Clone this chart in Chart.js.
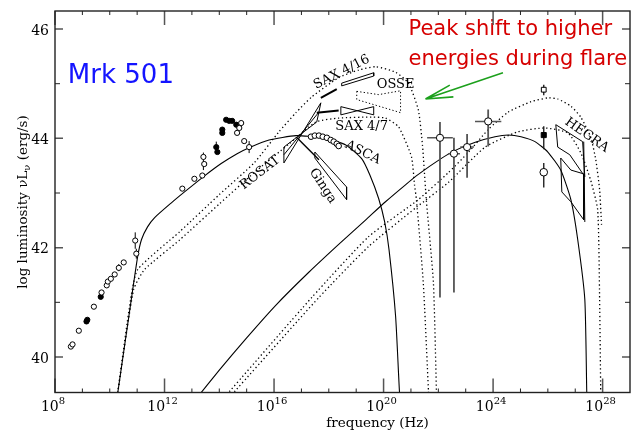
<!DOCTYPE html>
<html>
<head>
<meta charset="utf-8">
<script src="https://cdn.jsdelivr.net/npm/chart.js@4.4.1/dist/chart.umd.min.js"></script>
<style>
  html, body { margin: 0; padding: 0; background: #fff; }
  canvas { display: block; }
</style>
</head>
<body>
<canvas id="myChart" width="639" height="432"></canvas>
<script>
// all values are log10(frequency / Hz) and log10(nu L_nu / erg s^-1)

// model curves: quiescent (solid) and flare (dotted)
const syncQuietX = [10.25, 10.80, 11.02, 11.16, 11.38, 11.64, 12.25, 12.73, 13.45, 14.07, 14.65, 15.09, 15.82, 16.80, 17.75, 18.62, 19.20, 19.50, 19.82, 20.04, 20.20, 20.44, 20.58, 20.62];
const syncQuietY = [39.20, 41.10, 41.84, 42.15, 42.38, 42.55, 42.82, 43.02, 43.31, 43.54, 43.72, 43.83, 43.97, 44.05, 44.01, 43.88, 43.63, 43.33, 42.90, 42.47, 41.96, 40.74, 39.37, 39.22];

const syncFlareAX = [10.25, 10.76, 11.02, 12.55, 14.00, 15.27, 16.18, 16.80, 17.38, 18.36, 19.09, 19.71, 20.44, 20.91, 21.27, 21.42, 21.56, 21.82, 21.93, 21.94];
const syncFlareAY = [39.20, 41.05, 41.60, 42.29, 42.97, 43.55, 44.12, 44.47, 44.76, 45.11, 45.25, 45.31, 45.21, 45.01, 44.52, 43.88, 42.88, 41.36, 39.37, 39.20];

const syncFlareBX = [10.25, 10.87, 11.27, 12.55, 14.00, 15.27, 16.55, 17.53, 18.36, 19.56, 20.07, 20.55, 21.02, 21.13, 21.20, 21.45, 21.64, 21.65];
const syncFlareBY = [39.20, 41.23, 41.60, 42.14, 42.80, 43.37, 43.90, 44.30, 44.37, 44.39, 44.37, 44.21, 43.66, 43.15, 42.88, 41.36, 39.37, 39.20];

const icQuietX = [13.10, 14.00, 15.00, 16.07, 17.27, 18.36, 19.35, 20.07, 20.80, 21.27, 22.07, 22.62, 23.35, 24.07, 24.55, 25.02, 25.53, 26.00, 26.47, 26.84, 27.09, 27.35, 27.42, 27.43];
const icQuietY = [39.20, 39.76, 40.35, 40.95, 41.55, 42.06, 42.51, 42.84, 43.15, 43.34, 43.62, 43.78, 43.93, 44.03, 44.06, 44.03, 43.94, 43.75, 43.42, 42.88, 42.15, 41.05, 39.37, 39.20];

const icFlareAX = [14.08, 17.38, 19.45, 21.27, 22.36, 23.09, 23.82, 24.55, 25.38, 26.00, 26.36, 26.84, 27.20, 27.56, 27.75, 27.89, 27.96];
const icFlareAY = [39.20, 41.09, 42.20, 42.88, 43.37, 43.74, 44.16, 44.48, 44.67, 44.74, 44.72, 44.59, 44.39, 44.03, 43.61, 43.06, 42.42];

const icFlareBX = [14.26, 17.64, 19.45, 21.20, 22.36, 23.71, 24.91, 25.89, 26.73, 27.20, 27.56, 27.82, 27.89, 27.93, 27.93];
const icFlareBY = [39.20, 41.09, 42.02, 42.74, 43.19, 43.84, 44.12, 44.19, 44.10, 43.74, 43.24, 42.69, 41.05, 39.36, 39.20];

// radio / mm / IR / optical / UV points
const syncOpenX = [8.58, 8.64, 8.87, 9.42, 9.70, 9.89, 9.93, 10.04, 10.18, 10.33, 10.51, 10.93, 10.97, 12.65, 13.09, 13.38, 13.42, 13.45, 14.65, 14.73, 14.80, 14.91, 15.09];
const syncOpenY = [40.19, 40.23, 40.48, 40.92, 41.18, 41.31, 41.38, 41.43, 41.51, 41.63, 41.73, 42.13, 41.89, 43.08, 43.26, 43.32, 43.66, 43.53, 44.10, 44.19, 44.28, 43.95, 43.84];
const syncFilledX = [9.15, 9.18, 9.67, 13.89, 13.93, 14.11, 14.11, 14.25, 14.36, 14.47, 14.62];
const syncFilledY = [40.65, 40.68, 41.10, 43.84, 43.75, 44.10, 44.16, 44.34, 44.32, 44.32, 44.25];
const syncErrX = [10.33, 10.93, 10.97, 13.42, 13.89, 15.09];
const syncErrLo = [41.57, 41.98, 41.80, 43.42, 43.74, 43.73];
const syncErrHi = [41.70, 42.28, 41.98, 43.74, 43.94, 43.95];

// ASCA spectrum points
const ascaX = [17.35, 17.49, 17.64, 17.78, 17.93, 18.07, 18.18, 18.29, 18.36];
const ascaY = [44.03, 44.05, 44.05, 44.03, 44.01, 43.97, 43.94, 43.90, 43.86];

// gamma-ray points (EGRET / TeV)
const gamX = [22.06, 22.57, 23.05, 23.82];
const gamY = [44.01, 43.72, 43.84, 44.31];
const gamXerr = [0.47, 0.22, 0.25, 0.48];
const gamYlo = [41.09, 41.18, 43.28, 43.85];
const gamYhi = [44.30, 44.01, 44.08, 44.53];
const tevX = [25.85, 25.85, 25.85];
const tevY = [44.89, 44.06, 43.38];
const tevYlo = [44.79, 43.80, 43.10];
const tevYhi = [44.98, 44.22, 43.55];

// X-ray and TeV spectral bow-ties
const rosatX = [16.36, 17.56, 17.71, 16.36, 16.36];
const rosatY = [43.84, 44.30, 44.65, 43.55, 43.84];
const rosatMidX = [16.36, 17.64];
const rosatMidY = [43.70, 44.48];
const gingaX = [17.49, 18.65, 18.65, 17.49, 17.49];
const gingaY = [43.75, 43.11, 42.88, 43.64, 43.75];
const gingaEdgeX = [16.84, 17.64];
const gingaEdgeY = [44.01, 43.61];
const sax16LineX = [17.71, 18.29];
const sax16LineY = [44.74, 44.90];
const sax16BoxX = [18.47, 19.64, 19.64, 18.47, 18.47];
const sax16BoxY = [45.01, 45.20, 45.14, 44.96, 45.01];
const sax7LineX = [17.56, 18.36];
const sax7LineY = [44.47, 44.51];
const sax7BoxX = [18.44, 19.64, 19.64, 18.44, 18.44];
const sax7BoxY = [44.58, 44.43, 44.58, 44.43, 44.58];
const osseX = [19.02, 19.82, 20.62, 20.62, 19.02, 19.02];
const osseY = [44.86, 44.80, 44.87, 44.47, 44.71, 44.86];
const hegraAX = [26.29, 27.27, 27.35, 26.80, 26.36, 26.29];
const hegraAY = [44.25, 43.94, 43.30, 43.70, 43.84, 44.25];
const hegraBX = [26.47, 26.84, 27.31, 27.31, 26.84, 26.51, 26.47];
const hegraBY = [43.64, 43.42, 43.35, 42.51, 42.84, 43.02, 43.64];
const hegraEdgeX = [27.31, 27.35];
const hegraEdgeY = [43.94, 42.47];

// instrument labels
const labelText = ['SAX 4/16', 'OSSE', 'SAX 4/7', 'ASCA', 'ROSAT', 'Ginga', 'HEGRA'];
const labelX = [18.47, 20.44, 19.20, 19.24, 15.49, 17.78, 27.42];
const labelY = [45.21, 44.98, 44.21, 43.74, 43.37, 43.13, 44.06];
const labelAngle = [-27, 0, 0, 27, -38, 57, 35];

// axis ticks
const xMajor = [8, 12, 16, 20, 24, 28];
const xMinor = [9, 10, 11, 13, 14, 15, 17, 18, 19, 21, 22, 23, 25, 26, 27];
const yMajor = [40, 42, 44, 46];
const yMinor = [41, 43, 45];

// annotation
const sourceName = 'Mrk 501';
const noteLines = ['Peak shift to higher', 'energies during flare'];
const arrowTail = [24.36, 45.20];
const arrowHead = [21.53, 44.72];

const pts = (xs, ys) => xs.map((x, i) => ({x: x, y: ys[i]}));

// vertical / horizontal error bars as broken line segments
function vBars(xs, lo, hi) {
  const out = [];
  xs.forEach((x, i) => { out.push({x: x, y: lo[i]}, {x: x, y: hi[i]}, {x: null, y: null}); });
  return out;
}
function hBars(xs, ys, dx) {
  const out = [];
  xs.forEach((x, i) => { out.push({x: x - dx[i], y: ys[i]}, {x: x + dx[i], y: ys[i]}, {x: null, y: null}); });
  return out;
}

function curve(xs, ys, dotted) {
  return {
    data: pts(xs, ys), showLine: true, pointRadius: 0, borderColor: '#000',
    borderWidth: dotted ? 1.3 : 1.1, borderDash: dotted ? [1.3, 2.7] : [],
    tension: 0.18, fill: false, order: 3
  };
}
function outline(xs, ys, dotted, width) {
  return {
    data: pts(xs, ys), showLine: true, pointRadius: 0, borderColor: '#000',
    borderWidth: width || 1, borderDash: dotted ? [1.3, 2.2] : [],
    tension: 0, fill: false, spanGaps: false, order: 2
  };
}
function marks(xs, ys, opts) {
  return Object.assign({
    data: pts(xs, ys), showLine: false, pointRadius: 2.6, pointStyle: 'circle',
    pointBackgroundColor: '#fff', pointBorderColor: '#000', pointBorderWidth: 1, order: 0
  }, opts || {});
}

const datasets = [
  curve(syncQuietX, syncQuietY, false),
  curve(syncFlareAX, syncFlareAY, true),
  curve(syncFlareBX, syncFlareBY, true),
  curve(icQuietX, icQuietY, false),
  curve(icFlareAX, icFlareAY, true),
  curve(icFlareBX, icFlareBY, true),
  outline(rosatX, rosatY), outline(rosatMidX, rosatMidY),
  outline(gingaX, gingaY), outline(gingaEdgeX, gingaEdgeY, false, 1.4),
  outline(sax16LineX, sax16LineY, false, 2), outline(sax16BoxX, sax16BoxY),
  outline(sax7LineX, sax7LineY, false, 2), outline(sax7BoxX, sax7BoxY),
  outline(osseX, osseY, true),
  outline(hegraAX, hegraAY), outline(hegraBX, hegraBY), outline(hegraEdgeX, hegraEdgeY),
  { data: vBars(syncErrX, syncErrLo, syncErrHi), showLine: true, pointRadius: 0, borderColor: '#000', borderWidth: 1, spanGaps: false, order: 1 },
  { data: vBars(gamX, gamYlo, gamYhi), showLine: true, pointRadius: 0, borderColor: '#555', borderWidth: 1.8, spanGaps: false, order: 1 },
  { data: hBars(gamX, gamY, gamXerr), showLine: true, pointRadius: 0, borderColor: '#555', borderWidth: 1.5, spanGaps: false, order: 1 },
  { data: vBars(tevX, tevYlo, tevYhi), showLine: true, pointRadius: 0, borderColor: '#222', borderWidth: 1.4, spanGaps: false, order: 1 },
  marks(syncOpenX, syncOpenY),
  marks(syncFilledX, syncFilledY, {pointBackgroundColor: '#000'}),
  marks(ascaX, ascaY, {pointRadius: 2.8}),
  marks(gamX, gamY, {pointRadius: 3.6}),
  marks([tevX[0]], [tevY[0]], {pointStyle: 'rect', pointRadius: 3.4}),
  marks([tevX[1]], [tevY[1]], {pointStyle: 'rect', pointRadius: 3.6, pointBackgroundColor: '#000'}),
  marks([tevX[2]], [tevY[2]], {pointRadius: 3.8})
];

const serif = '"DejaVu Serif", serif';

// frame, inward ticks, tick labels, axis titles
const frame = {
  id: 'frame',
  afterDraw(chart) {
    const {ctx, chartArea: a} = chart;
    const sx = chart.scales.x, sy = chart.scales.y;
    ctx.save();
    ctx.lineCap = 'butt';
    xMinor.forEach(v => {
      const p = sx.getPixelForValue(v);
      ctx.strokeStyle = '#222'; ctx.lineWidth = 1;
      ctx.beginPath();
      ctx.moveTo(p, a.bottom); ctx.lineTo(p, a.bottom - 4);
      ctx.moveTo(p, a.top); ctx.lineTo(p, a.top + 4);
      ctx.stroke();
    });
    xMajor.forEach(v => {
      const p = sx.getPixelForValue(v);
      ctx.strokeStyle = '#555'; ctx.lineWidth = 1.5;
      ctx.beginPath();
      ctx.moveTo(p, a.bottom); ctx.lineTo(p, a.bottom - 14);
      ctx.moveTo(p, a.top); ctx.lineTo(p, a.top + 14);
      ctx.stroke();
    });
    yMinor.forEach(v => {
      const p = sy.getPixelForValue(v);
      ctx.strokeStyle = '#222'; ctx.lineWidth = 1;
      ctx.beginPath();
      ctx.moveTo(a.left, p); ctx.lineTo(a.left + 5, p);
      ctx.moveTo(a.right, p); ctx.lineTo(a.right - 5, p);
      ctx.stroke();
    });
    yMajor.forEach(v => {
      const p = sy.getPixelForValue(v);
      ctx.strokeStyle = '#555'; ctx.lineWidth = 1.5;
      ctx.beginPath();
      ctx.moveTo(a.left, p); ctx.lineTo(a.left + 8, p);
      ctx.moveTo(a.right, p); ctx.lineTo(a.right - 8, p);
      ctx.stroke();
    });
    ctx.strokeStyle = '#222'; ctx.lineWidth = 1.4;
    ctx.strokeRect(a.left, a.top, a.right - a.left, a.bottom - a.top);

    // tick labels
    ctx.fillStyle = '#000';
    ctx.textBaseline = 'alphabetic';
    xMajor.forEach(v => {
      const p = sx.getPixelForValue(v);
      const exp = String(v);
      ctx.font = '14px ' + serif;
      const w1 = ctx.measureText('10').width;
      ctx.font = '10px ' + serif;
      const w2 = ctx.measureText(exp).width;
      const x0 = p - 2 - (w1 + w2) / 2;
      ctx.textAlign = 'left';
      ctx.font = '14px ' + serif;
      ctx.fillText('10', x0, a.bottom + 18);
      ctx.font = '10px ' + serif;
      ctx.fillText(exp, x0 + w1, a.bottom + 11);
    });
    ctx.font = '14px ' + serif;
    ctx.textAlign = 'right';
    ctx.textBaseline = 'middle';
    yMajor.forEach(v => {
      ctx.fillText(String(v), a.left - 6, sy.getPixelForValue(v) + 2);
    });

    // axis titles
    ctx.textAlign = 'center';
    ctx.textBaseline = 'alphabetic';
    ctx.font = '13.5px ' + serif;
    ctx.fillText('frequency (Hz)', (a.left + a.right) / 2 + 35, a.bottom + 34);

    ctx.translate(27, 202);
    ctx.rotate(-Math.PI / 2);
    const parts = [['log luminosity \u03bdL', 13.5, 0], ['\u03bd', 10, 3], [' (erg/s)', 13.5, 0]];
    let total = 0;
    parts.forEach(pt => { ctx.font = pt[1] + 'px ' + serif; total += ctx.measureText(pt[0]).width; });
    let cx = -total / 2;
    ctx.textAlign = 'left';
    parts.forEach(pt => {
      ctx.font = pt[1] + 'px ' + serif;
      ctx.fillText(pt[0], cx, pt[2]);
      cx += ctx.measureText(pt[0]).width;
    });
    ctx.restore();
  }
};

// instrument labels, source name, note and arrow
const notes = {
  id: 'notes',
  afterDatasetsDraw(chart) {
    const {ctx} = chart;
    const sx = chart.scales.x, sy = chart.scales.y;
    ctx.save();
    ctx.fillStyle = '#000';
    ctx.font = '13px ' + serif;
    ctx.textAlign = 'center';
    ctx.textBaseline = 'middle';
    labelText.forEach((t, i) => {
      ctx.save();
      ctx.translate(sx.getPixelForValue(labelX[i]), sy.getPixelForValue(labelY[i]));
      ctx.rotate(labelAngle[i] * Math.PI / 180);
      ctx.fillText(t, 0, 0);
      ctx.restore();
    });

    ctx.textAlign = 'left';
    ctx.textBaseline = 'alphabetic';
    ctx.fillStyle = '#1414ff';
    ctx.font = '26px "DejaVu Sans", sans-serif';
    ctx.fillText(sourceName, sx.getPixelForValue(8.47), sy.getPixelForValue(45.01));

    ctx.fillStyle = '#d60000';
    ctx.font = '21px "DejaVu Sans", sans-serif';
    ctx.fillText(noteLines[0], sx.getPixelForValue(20.91), sy.getPixelForValue(45.89));
    ctx.fillText(noteLines[1], sx.getPixelForValue(20.91), sy.getPixelForValue(45.34));

    const tx = sx.getPixelForValue(arrowTail[0]), ty = sy.getPixelForValue(arrowTail[1]);
    const hx = sx.getPixelForValue(arrowHead[0]), hy = sy.getPixelForValue(arrowHead[1]);
    const ang = Math.atan2(ty - hy, tx - hx);
    ctx.strokeStyle = '#1ca01c';
    ctx.lineWidth = 1.6;
    ctx.beginPath();
    ctx.moveTo(tx, ty); ctx.lineTo(hx, hy);
    [-0.19, 0.25].forEach(d => {
      ctx.moveTo(hx, hy);
      ctx.lineTo(hx + 28 * Math.cos(ang + d), hy + 28 * Math.sin(ang + d));
    });
    ctx.stroke();
    ctx.restore();
  }
};

const config = {
  type: 'scatter',
  data: { datasets: datasets },
  options: {
    responsive: false,
    animation: false,
    devicePixelRatio: 1,
    layout: { padding: { left: 55, right: 9, top: 11, bottom: 39.5 } },
    scales: {
      x: { type: 'linear', min: 8, max: 29, display: false },
      y: { type: 'linear', min: 39.35, max: 46.33, display: false }
    },
    plugins: { legend: { display: false }, tooltip: { enabled: false } }
  },
  plugins: [frame, notes]
};

const ctx = document.getElementById('myChart').getContext('2d');
const myChart = new Chart(ctx, config);
</script>
</body>
</html>
